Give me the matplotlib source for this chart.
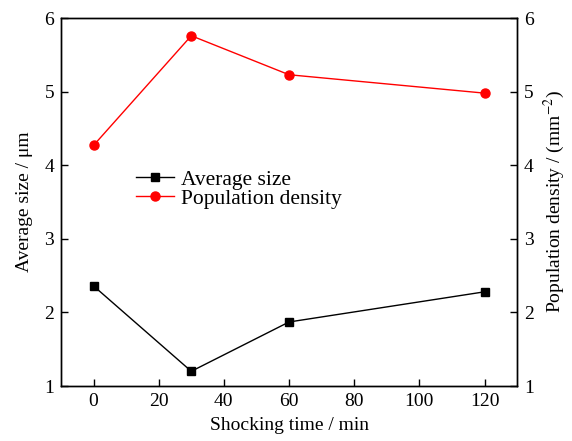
import numpy as np
import matplotlib.pyplot as plt

plt.rcParams['font.family'] = ['Liberation Serif', 'DejaVu Serif']
plt.rcParams['mathtext.fontset'] = 'stix'

time = [0, 30, 60, 120]
avg_size = [2.36, 1.20, 1.87, 2.28]
pop_density = [4.27, 5.76, 5.23, 4.98]

fig = plt.figure(figsize=(5.72, 4.41), dpi=100)
ax = fig.add_axes([0.1066, 0.1247, 0.7974, 0.8343])
ax2 = ax.twinx()

l1, = ax.plot(time, avg_size, color='black', marker='s', markersize=6, lw=1, label='Average size')
l2, = ax2.plot(time, pop_density, color='red', marker='o', markersize=6.5, lw=1, label='Population density')

ax.set_xlim(-10, 130)
ax.set_ylim(1, 6)
ax2.set_ylim(1, 6)
ax.set_xticks([0, 20, 40, 60, 80, 100, 120])
ax.set_yticks([1, 2, 3, 4, 5, 6])
ax2.set_yticks([1, 2, 3, 4, 5, 6])

for a in (ax, ax2):
    a.tick_params(direction='in', labelsize=14, length=5, width=1, pad=5)
    for s in a.spines.values():
        s.set_linewidth(1)

ax.set_xlabel('Shocking time / min', fontsize=14, labelpad=5)
ax.set_ylabel('Average size / μm', fontsize=14, labelpad=8)
ax2.set_ylabel('Population density / (mm$^{-2}$)', fontsize=14, labelpad=6)

ax.legend(handles=[l1, l2], loc='upper left', bbox_to_anchor=(0.165, 0.588),
          frameon=False, fontsize=15.5, handlelength=1.75, borderpad=0, labelspacing=-0.05,
          handletextpad=0.35, borderaxespad=0)

fig.savefig('out.png', dpi=100)
